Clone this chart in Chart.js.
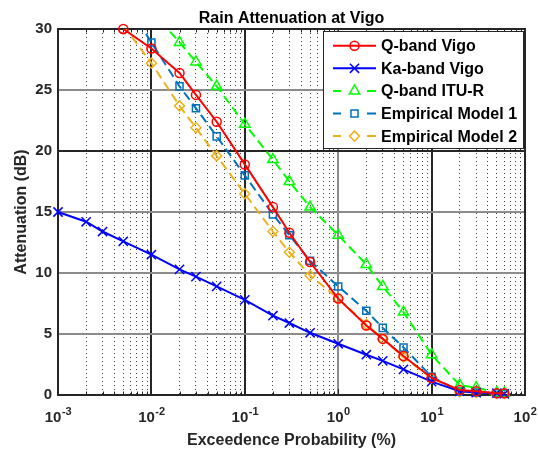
<!DOCTYPE html>
<html>
<head>
<meta charset="utf-8">
<title>Rain Attenuation at Vigo</title>
<script src="https://cdn.jsdelivr.net/npm/chart.js@4.4.1/dist/chart.umd.min.js"></script>
<style>
    html, body { margin: 0; padding: 0; background: #fff; }
    #wrap { width: 538px; height: 450px; }
</style>
</head>
<body>
<div id="wrap"><canvas id="rainChart" width="538" height="450"></canvas></div>
<script>
// Probabilidad de excedencia (%) y atenuación (dB) de cada serie
const probQVigo = [0.005, 0.01, 0.02, 0.03, 0.05, 0.1, 0.2, 0.3, 0.5, 1, 2, 3, 5, 10, 20, 30, 50, 60];
const qVigo     = [30, 28.4, 26.4, 24.6, 22.4, 18.9, 15.4, 13.3, 10.9, 7.9, 5.7, 4.6, 3.2, 1.4, 0.4, 0.3, 0.15, 0.15];

const probKaVigo = [0.001, 0.002, 0.003, 0.005, 0.01, 0.02, 0.03, 0.05, 0.1, 0.2, 0.3, 0.5, 1, 2, 3, 5, 10, 20, 30, 50, 60];
const kaVigo     = [15.0, 14.2, 13.4, 12.6, 11.5, 10.3, 9.7, 8.9, 7.8, 6.5, 5.9, 5.1, 4.2, 3.3, 2.8, 2.1, 1.1, 0.3, 0.2, 0.15, 0.1];

const probItu = [0.01, 0.02, 0.03, 0.05, 0.1, 0.2, 0.3, 0.5, 1, 2, 3, 5, 10, 20, 30, 50, 60];
const qItu    = [31.5, 28.9, 27.3, 25.3, 22.2, 19.3, 17.5, 15.4, 13.1, 10.7, 8.9, 6.8, 3.3, 0.8, 0.6, 0.2, 0.15];

const probModelos = [0.005, 0.01, 0.02, 0.03, 0.05, 0.1, 0.2, 0.3, 0.5, 1, 2, 3, 5, 10, 20, 30, 50, 60];
const modelo1     = [32.5, 28.9, 25.3, 23.5, 21.2, 18.0, 14.8, 13.1, 11.0, 8.9, 6.9, 5.5, 3.9, 1.5, 0.3, 0.2, 0.15, 0.1];
const modelo2     = [30.3, 27.2, 23.7, 21.9, 19.6, 16.5, 13.4, 11.7, 9.8, 7.9, 5.8, 4.6, 3.1, 1.4, 0.25, 0.2, 0.12, 0.12];

// Ejes
const xDecadas = [0.001, 0.01, 0.1, 1, 10, 100];
const xExponentes = ['-3', '-2', '-1', '0', '1', '2'];
const yTicks = [0, 5, 10, 15, 20, 25, 30];
const yMax = 30;

const titulo = 'Rain Attenuation at Vigo';
const etiquetaX = 'Exceedence Probability (%)';
const etiquetaY = 'Attenuation (dB)';

const FUENTE = "'Liberation Sans', Arial, sans-serif";
const TEXTO = '#262626';

Chart.defaults.font.family = FUENTE;

const toPoints = (xs, ys) => xs.map((x, i) => ({ x: x, y: ys[i] }));

const series = [
    { label: 'Q-band Vigo', data: toPoints(probQVigo, qVigo), color: '#ff0000', style: 'circle', radius: 4.5, dashed: false },
    { label: 'Ka-band Vigo', data: toPoints(probKaVigo, kaVigo), color: '#0000ff', style: 'crossRot', radius: 6.5, dashed: false },
    { label: 'Q-band ITU-R', data: toPoints(probItu, qItu), color: '#00ff00', style: 'triangle', radius: 6, dashed: true },
    { label: 'Empirical Model 1', data: toPoints(probModelos, modelo1), color: '#0072bd', style: 'rect', radius: 5, dashed: true },
    { label: 'Empirical Model 2', data: toPoints(probModelos, modelo2), color: '#edb120', style: 'rectRot', radius: 5, dashed: true }
];

// Marcas del eje x: décadas + subdivisiones 2..9
const xTickValues = [];
xDecadas.forEach((d, i) => {
    if (i === xDecadas.length - 1) { xTickValues.push(d); return; }
    for (let k = 1; k <= 9; k++) xTickValues.push(k * d);
});
const esDecada = v => Math.abs(Math.log10(v) - Math.round(Math.log10(v))) < 1e-9;

// Marco, leyenda y textos al estilo MATLAB
const marcoPlugin = {
    id: 'marco',
    beforeDatasetsDraw(chart) {
        const { ctx, chartArea: a, scales } = chart;
        ctx.save();
        ctx.strokeStyle = TEXTO;
        ctx.lineWidth = 1;
        // marcas interiores arriba y abajo
        xTickValues.forEach(v => {
            const px = Math.round(scales.x.getPixelForValue(v)) + 0.5;
            const len = esDecada(v) ? 6 : 3.5;
            ctx.beginPath();
            ctx.moveTo(px, a.bottom); ctx.lineTo(px, a.bottom - len);
            ctx.moveTo(px, a.top); ctx.lineTo(px, a.top + len);
            ctx.stroke();
        });
        ctx.lineWidth = 2;
        ctx.strokeRect(a.left, a.top, a.right - a.left, a.bottom - a.top);
        ctx.restore();
    },
    afterDatasetsDraw(chart) {
        const { ctx, chartArea: a } = chart;
        // los marcadores justo en el límite superior no se recortan
        ctx.save();
        chart.data.datasets.forEach((ds, i) => {
            const meta = chart.getDatasetMeta(i);
            meta.data.forEach((pt, j) => {
                if (ds.data[j].y <= yMax && pt.y - a.top < 8) pt.draw(ctx, a);
            });
        });
        ctx.restore();

        // Leyenda
        const lg = { left: a.right - 202, top: a.top + 2, width: 200, height: 117 };
        ctx.save();
        ctx.fillStyle = '#fff';
        ctx.fillRect(lg.left, lg.top, lg.width, lg.height);
        ctx.strokeStyle = TEXTO;
        ctx.lineWidth = 1;
        ctx.strokeRect(lg.left + 0.5, lg.top + 0.5, lg.width, lg.height);
        series.forEach((s, i) => {
            const y = lg.top + 14.7 + i * 22.6;
            const x0 = lg.left + 10, x1 = lg.left + 53, xm = (x0 + x1) / 2;
            ctx.strokeStyle = s.color;
            ctx.lineWidth = 2;
            ctx.beginPath();
            if (s.dashed) {
                ctx.moveTo(x0, y); ctx.lineTo(x0 + 8, y);
                ctx.moveTo(x1 - 9, y); ctx.lineTo(x1, y);
            } else {
                ctx.moveTo(x0, y); ctx.lineTo(x1, y);
            }
            ctx.stroke();
            ctx.fillStyle = 'rgba(0,0,0,0)';
            ctx.lineWidth = 1.5;
            Chart.helpers.drawPoint(ctx, { pointStyle: s.style, rotation: 0, radius: s.radius, borderWidth: 1.5 }, xm, y);
            ctx.fillStyle = '#000';
            ctx.font = 'bold 16px ' + FUENTE;
            ctx.textAlign = 'left';
            ctx.textBaseline = 'middle';
            ctx.fillText(s.label, lg.left + 58, y + 1);
        });
        ctx.restore();
    },
    afterDraw(chart) {
        const { ctx, chartArea: a, scales } = chart;
        const cx = (a.left + a.right) / 2;
        ctx.save();
        ctx.fillStyle = '#000';
        ctx.textAlign = 'center';
        ctx.textBaseline = 'alphabetic';
        ctx.font = 'bold 16px ' + FUENTE;
        ctx.fillText(titulo, cx, 23);

        ctx.fillStyle = TEXTO;
        ctx.fillText(etiquetaX, cx, 445);

        ctx.save();
        ctx.translate(26, (a.top + a.bottom) / 2);
        ctx.rotate(-Math.PI / 2);
        ctx.fillText(etiquetaY, 0, 0);
        ctx.restore();

        // etiquetas 10^n del eje x
        xDecadas.forEach((d, i) => {
            const px = scales.x.getPixelForValue(d);
            ctx.font = 'bold 15px ' + FUENTE;
            const wBase = ctx.measureText('10').width;
            ctx.font = 'bold 11px ' + FUENTE;
            const wExp = ctx.measureText(xExponentes[i]).width;
            const x0 = px - (wBase + wExp) / 2;
            ctx.textAlign = 'left';
            ctx.font = 'bold 15px ' + FUENTE;
            ctx.fillText('10', x0, 422);
            ctx.font = 'bold 11px ' + FUENTE;
            ctx.fillText(xExponentes[i], x0 + wBase + 0.5, 415);
        });
        ctx.restore();
    }
};

const ctxRain = document.getElementById('rainChart').getContext('2d');
const rainChart = new Chart(ctxRain, {
    type: 'line',
    data: {
        datasets: series.map(s => ({
            label: s.label,
            data: s.data,
            borderColor: s.color,
            borderWidth: 2,
            borderDash: s.dashed ? [9, 5] : [],
            pointStyle: s.style,
            pointRadius: c => (c.raw && c.raw.y > yMax ? 0 : s.radius),
            pointHoverRadius: s.radius,
            pointBorderColor: s.color,
            pointBackgroundColor: 'rgba(0,0,0,0)',
            pointBorderWidth: 1.5,
            tension: 0,
            fill: false,
            clip: { left: 8, top: 0, right: 8, bottom: 8 }
        }))
    },
    options: {
        responsive: false,
        animation: false,
        events: [],
        layout: { padding: { top: 29, right: 13, left: 0, bottom: 0 } },
        plugins: {
            legend: { display: false },
            title: { display: false },
            tooltip: { enabled: false }
        },
        scales: {
            x: {
                type: 'logarithmic',
                min: 0.001,
                max: 100,
                afterBuildTicks: scale => { scale.ticks = xTickValues.map(v => ({ value: v })); },
                afterFit: scale => { scale.height = 55; },
                ticks: { display: false },
                grid: {
                    drawTicks: false,
                    color: c => (c.tick && esDecada(c.tick.value) ? (c.tick.value === 1 ? '#8c8c8c' : '#262626') : '#404040'),
                    lineWidth: c => (c.tick && esDecada(c.tick.value) ? 2 : 1)
                },
                border: {
                    display: false,
                    dash: c => (c.tick && !esDecada(c.tick.value) ? [1, 3] : [])
                }
            },
            y: {
                min: 0,
                max: yMax,
                afterBuildTicks: scale => { scale.ticks = yTicks.map(v => ({ value: v })); },
                afterFit: scale => { scale.width = 58; },
                ticks: {
                    color: TEXTO,
                    padding: 6,
                    font: { size: 15, weight: 'bold' }
                },
                grid: {
                    drawTicks: false,
                    color: c => (c.tick && c.tick.value === 20 ? '#262626' : '#8c8c8c'),
                    lineWidth: 2
                },
                border: { display: false }
            }
        }
    },
    plugins: [marcoPlugin]
});
</script>
</body>
</html>
